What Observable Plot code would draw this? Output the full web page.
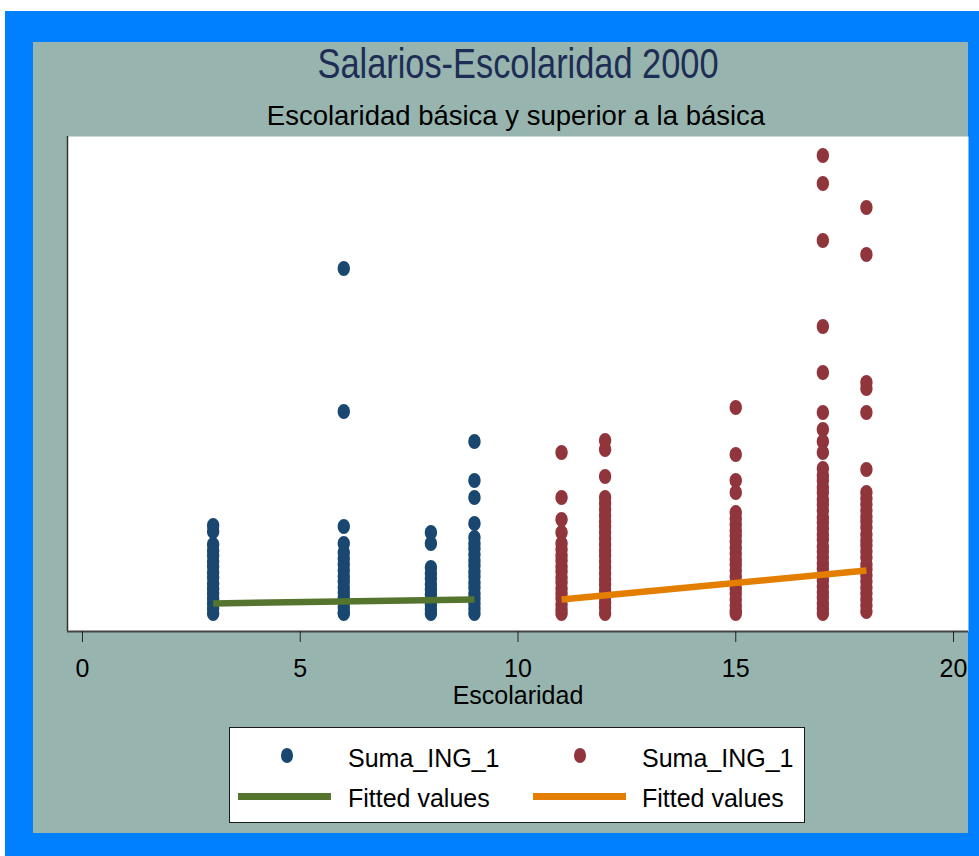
<!DOCTYPE html>
<html>
<head>
<meta charset="utf-8">
<script src="https://cdn.jsdelivr.net/npm/d3@7"></script>
<script src="https://cdn.jsdelivr.net/npm/@observablehq/plot@0.6"></script>
<style>
  html, body { margin: 0; padding: 0; background: #ffffff; }
  body { width: 979px; height: 856px; position: relative; overflow: hidden; font-family: "Liberation Sans", Arial, sans-serif; }
  #border { position: absolute; left: 5px; top: 11px; width: 974px; height: 845px; background: #0080ff; }
  #panel { position: absolute; left: 33px; top: 42px; width: 935px; height: 791px; background: #97b5ae; }
  .ttl { position: absolute; text-align: center; white-space: nowrap; line-height: 1; transform-origin: 50% 50%; }
  #title { left: 18px; width: 1000px; top: 43px; font-size: 42px; color: #1e2d55; transform: scaleX(0.818); }
  #subtitle { left: 16px; width: 1000px; top: 102px; font-size: 27.5px; color: #000; }
  #chart { position: absolute; left: 0; top: 136px; }
  #legend { position: absolute; left: 229px; top: 727px; width: 576px; height: 96px; box-sizing: border-box; background: #fff; border: 1.5px solid #1a1a1a; }
  #legend .lt { position: absolute; font-size: 25px; line-height: 1; white-space: nowrap; color: #000; }
  #legend .dot { position: absolute; width: 12.5px; height: 15px; border-radius: 50%; }
  #legend .ln { position: absolute; width: 93px; height: 7px; }
</style>
</head>
<body>
<div id="border"></div>
<div id="panel"></div>
<div id="title" class="ttl">Salarios-Escolaridad 2000</div>
<div id="subtitle" class="ttl">Escolaridad básica y superior a la básica</div>
<div id="chart"></div>
<div id="legend">
  <div class="dot" style="left:50.5px; top:19.5px; background:#1a476f;"></div>
  <div class="lt" style="left:118px; top:17.5px;">Suma_ING_1</div>
  <div class="dot" style="left:343.5px; top:19.5px; background:#90353b;"></div>
  <div class="lt" style="left:412px; top:17.5px;">Suma_ING_1</div>
  <div class="ln" style="left:8px; top:64.5px; background:#55752f;"></div>
  <div class="lt" style="left:118px; top:58px;">Fitted values</div>
  <div class="ln" style="left:303px; top:64.5px; background:#e37e00;"></div>
  <div class="lt" style="left:412px; top:58px;">Fitted values</div>
</div>
<script>
// ---- data (Suma_ING_1 by years of schooling) ----
const xTicks = [0, 5, 10, 15, 20];
const basicYears = [3, 6, 8, 9];
const upperYears = [11, 12, 15, 17, 18];

const ing3 = [4400, 4100, 3450, 3150, 2900, 2600, 2350, 2050, 1800, 1500, 1250, 1000, 750, 500, 250, 0];
const ing6 = [17250, 10100, 4350, 3500, 3050, 2750, 2450, 2150, 1850, 1600, 1300, 1050, 800, 550, 300, 50, 0];
const ing8 = [4050, 3500, 2300, 2000, 1750, 1450, 1200, 950, 700, 450, 200, 0];
const ing9 = [8600, 6650, 5800, 4500, 3800, 3500, 3250, 2950, 2650, 2400, 2100, 1850, 1550, 1300, 1000, 750, 500, 250, 0];
const ing11 = [8050, 5800, 4700, 4050, 3500, 3200, 2900, 2650, 2350, 2100, 1800, 1550, 1250, 1000, 750, 450, 200, 0];
const ing12 = [8650, 8200, 6850, 5800, 5500, 5200, 4900, 4600, 4350, 4050, 3750, 3450, 3150, 2900, 2600, 2300, 2000, 1700, 1450, 1150, 850, 550, 300, 0];
const ing15 = [10300, 7950, 6650, 6050, 5050, 4750, 4450, 4150, 3900, 3600, 3300, 3000, 2700, 2450, 2150, 1850, 1550, 1250, 1000, 700, 400, 150, 0];
const ing17 = [22900, 21500, 18650, 14350, 12050, 10050, 9200, 8600, 8050, 7250, 6900, 6650, 6300, 6050, 5700, 5450, 5150, 4800, 4550, 4250, 3950, 3700, 3350, 3100, 2800, 2500, 2250, 1900, 1650, 1350, 1050, 800, 500, 250, 0];
const ing18 = [20300, 17950, 11550, 11250, 10050, 7200, 6050, 5750, 5450, 5150, 4850, 4600, 4300, 3950, 3650, 3400, 3100, 2800, 2450, 2200, 1900, 1600, 1300, 1000, 700, 400, 100];

const fitBasicX = [3, 9];
const fitBasicY = [500, 700];
const fitUpperX = [11, 18];
const fitUpperY = [700, 2150];

// ---- build tables ----
const basicCols = [ing3, ing6, ing8, ing9];
const upperCols = [ing11, ing12, ing15, ing17, ing18];
const basicPts = basicYears.flatMap((x, i) => basicCols[i].map(y => ({x, y})));
const upperPts = upperYears.flatMap((x, i) => upperCols[i].map(y => ({x, y})));
const fitBasic = fitBasicX.map((x, i) => ({x, y: fitBasicY[i]}));
const fitUpper = fitUpperX.map((x, i) => ({x, y: fitUpperY[i]}));

// ellipse marker (Stata's markers are slightly taller than wide here)
const ellipse = {
  draw(ctx, size) {
    const r = Math.sqrt(size / Math.PI);
    const rx = r * 0.82, ry = r, k = 0.5523;
    ctx.moveTo(rx, 0);
    ctx.bezierCurveTo(rx, k * ry, k * rx, ry, 0, ry);
    ctx.bezierCurveTo(-k * rx, ry, -rx, k * ry, -rx, 0);
    ctx.bezierCurveTo(-rx, -k * ry, -k * rx, -ry, 0, -ry);
    ctx.bezierCurveTo(k * rx, -ry, rx, -k * ry, rx, 0);
    ctx.closePath();
  }
};

const xDomain = [-0.344, 20.344];
const yDomain = [-900, 23850];

const chart = Plot.plot({
  width: 968,
  height: 575,
  marginLeft: 67,
  marginRight: 0,
  marginTop: 0,
  marginBottom: 80,
  x: {domain: xDomain},
  y: {domain: yDomain, axis: null},
  style: {background: "transparent", color: "#000", fontFamily: "'Liberation Sans', Arial, sans-serif", overflow: "visible"},
  marks: [
    Plot.frame({fill: "white", stroke: "none"}),
    Plot.dot(basicPts, {x: "x", y: "y", r: 7.5, symbol: ellipse, fill: "#1a476f"}),
    Plot.dot(upperPts, {x: "x", y: "y", r: 7.5, symbol: ellipse, fill: "#90353b"}),
    Plot.line(fitBasic, {x: "x", y: "y", stroke: "#55752f", strokeWidth: 6.5, strokeLinecap: "butt"}),
    Plot.line(fitUpper, {x: "x", y: "y", stroke: "#e37e00", strokeWidth: 6.5, strokeLinecap: "butt"}),
    Plot.ruleX([xDomain[0]], {stroke: "#333", strokeWidth: 1.5}),
    Plot.ruleY([yDomain[0]], {stroke: "#444", strokeWidth: 2}),
    Plot.axisX({
      ticks: xTicks,
      tickSize: 11,
      tickPadding: 17,
      fontSize: 25,
      stroke: "#222",
      fill: "#000",
      label: "Escolaridad",
      labelAnchor: "center",
      labelArrow: "none",
      labelOffset: 72
    })
  ]
});
document.getElementById("chart").appendChild(chart);
</script>
</body>
</html>
